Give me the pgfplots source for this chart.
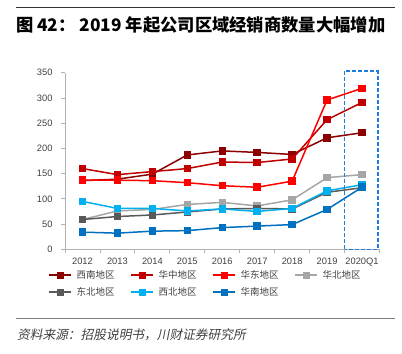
\documentclass[border=0pt]{standalone}
\usepackage{pgfplots}
\pgfplotsset{compat=1.18}
\usepackage{fontspec}
\setmainfont{Liberation Sans}
\newfontfamily\cjk{Noto Sans CJK SC}
\newfontfamily\cjkit{Noto Sans CJK SC}[FakeSlant=0.2]
\definecolor{cXN}{HTML}{8B0000}
\definecolor{cHZ}{HTML}{C00000}
\definecolor{cHD}{HTML}{FF0000}
\definecolor{cHB}{HTML}{A6A6A6}
\definecolor{cDB}{HTML}{595959}
\definecolor{cXB}{HTML}{00B0F0}
\definecolor{cHN}{HTML}{0070C0}
\definecolor{cBox}{HTML}{1F7FD6}
\definecolor{txt}{HTML}{404040}
\begin{document}
\begin{tikzpicture}
\path[use as bounding box] (0,0) rectangle (402bp,-354bp);
\draw[line width=0.8bp, black!80] (16bp,-7.5bp) -- (395bp,-7.5bp);
\node[anchor=west, inner sep=0pt, font=\cjk\bfseries\fontsize{17.3bp}{19bp}\selectfont] at (16bp,-25bp) {图 42： 2019 年起公司区域经销商数量大幅增加};
\draw[line width=1.5bp, black!50] (16bp,-318.3bp) -- (395bp,-318.3bp);
\node[anchor=west, inner sep=0pt, text=txt, font=\cjkit\fontsize{12.7bp}{14bp}\selectfont] at (17bp,-335bp) {资料来源：招股说明书，川财证券研究所};
\begin{axis}[
  at={(65bp,-249.3bp)}, anchor=south west,
  scale only axis, width=314.5bp, height=176.6bp,
  xmin=-0.5, xmax=8.5, ymin=0, ymax=350,
  axis x line=bottom, axis y line=left,
  axis line style={draw=black!30, line width=0.8bp, -},
  xtick={0,...,8},
  xticklabels={2012,2013,2014,2015,2016,2017,2018,2019,2020Q1},
  minor xtick={-0.5,0.5,...,8.5},
  major x tick style={draw=none},
  minor tick length=4bp,
  ytick={0,50,...,350},
  major tick length=4bp,
  tick align=outside,
  tick style={draw=black!30, line width=0.8bp},
  ticklabel style={font=\fontsize{9.3bp}{10bp}\selectfont, text=txt},
  xticklabel style={yshift=-1bp},
  yticklabel style={xshift=-5bp},
  /pgf/number format/assume math mode=true,
  clip=false,
  every axis plot/.append style={line width=1.5bp, mark=square*, mark size=3bp},
  legend columns=4,
  legend style={at={(-0.054,-0.115)}, anchor=north west, draw=none, fill=none,
    inner sep=0pt, row sep=6bp,
    font=\cjk\fontsize{9.5bp}{11bp}\selectfont, text=txt,
    nodes={inner sep=0.5bp, text height=8bp, text depth=2bp},
    /tikz/every odd column/.append style={column sep=4.2bp},
    /tikz/every even column/.append style={column sep=15bp}},
  legend cell align=left,
  legend image code/.code={\draw[mark repeat=2, mark phase=2, #1, line width=1.8bp, mark size=2.5bp] plot coordinates {(0bp,0bp) (11bp,0bp) (22bp,0bp)};},
]
\addplot[color=cXN] coordinates {(0,136) (1,139) (2,149) (3,187) (4,195) (5,192) (6,188) (7,221) (8,231)};
\addlegendentry{西南地区}
\addplot[color=cHZ] coordinates {(0,160) (1,148) (2,154) (3,160) (4,173) (5,172) (6,179) (7,257) (8,291)};
\addlegendentry{华中地区}
\addplot[color=cHD] coordinates {(0,137) (1,137) (2,136) (3,132) (4,126) (5,123) (6,135) (7,296) (8,319)};
\addlegendentry{华东地区}
\addplot[color=cHB] coordinates {(0,59) (1,76) (2,79) (3,89) (4,93) (5,86) (6,98) (7,142) (8,148)};
\addlegendentry{华北地区}
\addplot[color=cDB] coordinates {(0,59) (1,65) (2,68) (3,74) (4,80) (5,81) (6,80) (7,113) (8,122)};
\addlegendentry{东北地区}
\addplot[color=cXB] coordinates {(0,95) (1,81) (2,81) (3,76) (4,80) (5,75) (6,81) (7,116) (8,128)};
\addlegendentry{西北地区}
\addplot[color=cHN] coordinates {(0,34) (1,32) (2,36) (3,37) (4,43) (5,46) (6,49) (7,79) (8,123)};
\addlegendentry{华南地区}
\draw[cBox, line width=1.5bp, dash pattern=on 4bp off 2bp] (axis cs:7.5,0) rectangle (axis cs:8.45,353);
\end{axis}
\end{tikzpicture}
\end{document}
